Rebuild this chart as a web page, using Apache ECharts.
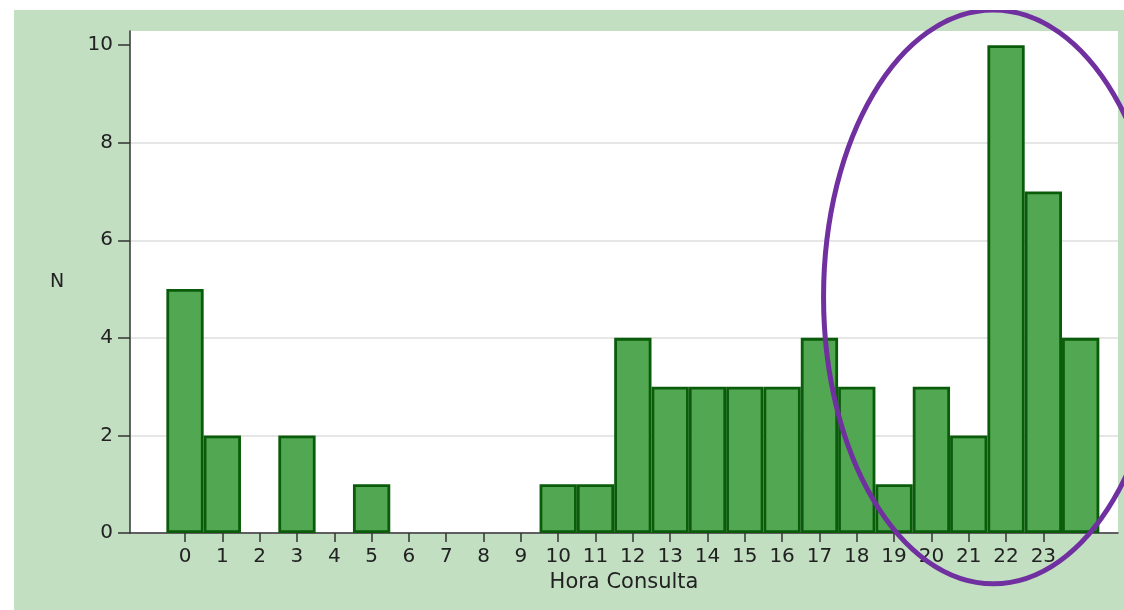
<!DOCTYPE html>
<html>
<head>
<meta charset="utf-8">
<script src="https://cdn.jsdelivr.net/npm/echarts@6/dist/echarts.min.js"></script>
<style>
  html, body { margin: 0; padding: 0; background: #fff; }
  #wrap { position: relative; width: 1124px; height: 610px; background: #fff; }
  #main { position: absolute; left: 14px; top: 10px; width: 1110px; height: 600px; background: #c2dfc2; }
</style>
</head>
<body>
<div id="wrap"><div id="main"></div></div>
<script>
// hora de la consulta (0..24) y número de consultas
var hours = [0, 1, 2, 3, 4, 5, 6, 7, 8, 9, 10, 11, 12, 13, 14, 15, 16, 17, 18, 19, 20, 21, 22, 23, 24];
var counts = [5, 2, 0, 2, 0, 1, 0, 0, 0, 0, 1, 1, 4, 3, 3, 3, 3, 4, 3, 1, 3, 2, 10, 7, 4];
var xTicks = [0, 1, 2, 3, 4, 5, 6, 7, 8, 9, 10, 11, 12, 13, 14, 15, 16, 17, 18, 19, 20, 21, 22, 23];
var yTicks = [0, 2, 4, 6, 8, 10];

var myChart = echarts.init(document.getElementById('main'));
var font = 'DejaVu Sans, Liberation Sans, sans-serif';

var option = {
    animation: false,
    grid: {
        left: 116,
        top: 21,
        right: 6,
        bottom: 77,
        show: true,
        backgroundColor: '#fff',
        borderWidth: 0
    },
    xAxis: {
        type: 'value',
        min: -1.474,
        max: 25,
        name: 'Hora Consulta',
        nameLocation: 'middle',
        nameGap: 35,
        nameTextStyle: { fontFamily: font, fontSize: 21, color: '#222' },
        axisLine: { lineStyle: { color: '#333', width: 1.5 } },
        axisTick: { customValues: xTicks, length: 9, lineStyle: { color: '#333', width: 1.5 } },
        axisLabel: { customValues: xTicks, margin: 14, fontFamily: font, fontSize: 20, color: '#222' },
        splitLine: { show: false }
    },
    yAxis: {
        type: 'value',
        min: 0,
        max: 10.29,
        name: 'N',
        nameLocation: 'middle',
        nameRotate: 0,
        nameGap: 73,
        nameTextStyle: { fontFamily: font, fontSize: 19, color: '#222', align: 'center' },
        axisLine: { show: true, onZero: false, lineStyle: { color: '#333', width: 1.5 } },
        axisTick: { show: true, customValues: yTicks, length: 12, lineStyle: { color: '#333', width: 1.5 } },
        axisLabel: { customValues: yTicks, margin: 17, fontFamily: font, fontSize: 20, color: '#222' },
        splitLine: { showMaxLine: false, lineStyle: { color: '#e6e6e6', width: 2 } }
    },
    series: [{
        type: 'bar',
        barWidth: 37.3,
        data: hours.map(function (h, i) { return [h, counts[i] === 0 ? '-' : counts[i]]; }),
        itemStyle: {
            color: '#52a852',
            borderColor: '#0a5c0a',
            borderWidth: 2.8
        }
    }]
};
myChart.setOption(option);

// elipse morada que resalta las horas nocturnas
var c = myChart.convertToPixel({ gridIndex: 0 }, [21.66, 4.84]);
var e = myChart.convertToPixel({ gridIndex: 0 }, [21.66 + 4.55, 4.84 + 5.88]);
myChart.setOption({
    graphic: [{
        type: 'ellipse',
        z: 100,
        silent: true,
        shape: { cx: c[0], cy: c[1], rx: e[0] - c[0], ry: c[1] - e[1] },
        style: { fill: null, stroke: '#7030a0', lineWidth: 5 }
    }]
});
</script>
</body>
</html>
